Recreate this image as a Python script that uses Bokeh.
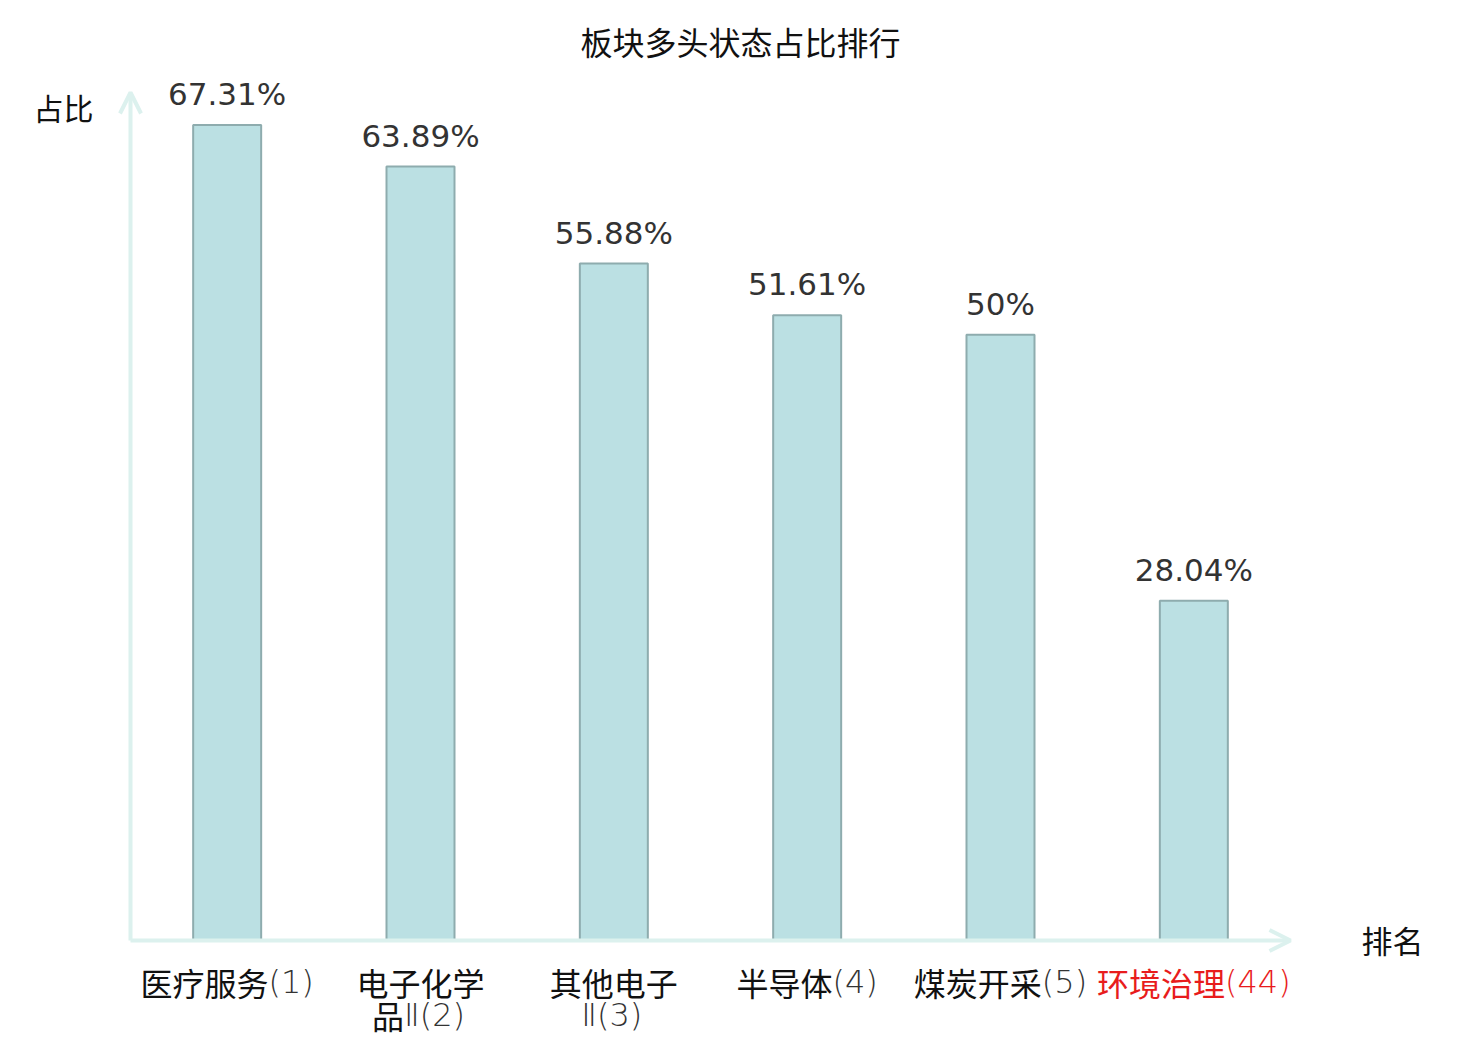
from bokeh.plotting import figure
from bokeh.models import Range1d, Arrow, OpenHead, ColumnDataSource
from bokeh.embed import file_html
from bokeh.resources import INLINE
from bokeh.core.properties import value

# ---- data ----
categories = ["医疗服务", "电子化学品Ⅱ", "其他电子Ⅱ", "半导体", "煤炭开采", "环境治理"]
ranks = [1, 2, 3, 4, 5, 44]
shares = [67.31, 63.89, 55.88, 51.61, 50, 28.04]
highlight = [False, False, False, False, False, True]
title_text = "板块多头状态占比排行"
y_name = "占比"
x_name = "排名"

# ---- layout ----
W, H = 1480, 1040
Y_MAX = 70
N = len(categories)
PX_LEFT, PX_RIGHT, PX_BASE, PX_TOP = 130, 1290, 940, 92
sx = (PX_RIGHT - PX_LEFT) / N
sy = (PX_BASE - PX_TOP) / Y_MAX
x0 = -PX_LEFT / sx
x1 = x0 + W / sx
y1 = PX_BASE / sy
y0 = y1 - H / sy


def dx(px):
    return x0 + px / sx


def dy(py):
    return y1 - py / sy


CJK = "Noto Sans CJK SC"
THIN = "DejaVu Sans ExtraLight, DejaVu Sans Light, DejaVu Sans"
FS = 32
AXIS_COL = "#dcf1ee"

p = figure(width=W, height=H, output_backend="svg", toolbar_location=None,
           x_range=Range1d(x0, x1), y_range=Range1d(y0, y1),
           x_axis_type=None, y_axis_type=None, min_border=0,
           outline_line_color=None, background_fill_color="white",
           border_fill_color="white")
p.grid.visible = False

# axes with arrows
p.add_layout(Arrow(x_start=0, y_start=0, x_end=0, y_end=Y_MAX,
                   line_color=AXIS_COL, line_width=4,
                   end=OpenHead(size=21, line_color=AXIS_COL, line_width=4)))
p.add_layout(Arrow(x_start=0, y_start=0, x_end=N, y_end=0,
                   line_color=AXIS_COL, line_width=4,
                   end=OpenHead(size=21, line_color=AXIS_COL, line_width=4)))

xs = [i + 0.5 for i in range(N)]
src = ColumnDataSource(dict(x=xs, top=shares,
                            lab=[f"{v:g}%" for v in shares]))
p.vbar(x="x", top="top", bottom=0, width=68 / sx, source=src,
       fill_color="#bbe0e3", line_color="#8eacae", line_width=2)
p.text(x="x", y="top", text="lab", source=src, text_align="center",
       text_baseline="alphabetic", y_offset=-31, text_color="#333333",
       text_font=value("DejaVu Sans"), text_font_size="31px")

# category labels: CJK part dark, the rest thin grey
WIDTHS = {"(": 0.39, ")": 0.39, "Ⅱ": 0.62}


def thin_width(s, fs):
    return sum(WIDTHS.get(ch, 0.636) for ch in s) * fs


def is_cjk(ch):
    return ord(ch) >= 0x3400


MAXC = 4
for x, name, r, hl in zip(xs, categories, ranks, highlight):
    chunks = [name[i:i + MAXC] for i in range(0, len(name), MAXC)]
    chunks[-1] += f"({r})"
    dark = "#e81c1c" if hl else "#111111"
    grey = "#e81c1c" if hl else "#333333"
    for li, chunk in enumerate(chunks):
        k = 0
        while k < len(chunk) and is_cjk(chunk[k]):
            k += 1
        a, b = chunk[:k], chunk[k:]
        wa = len(a) * FS
        wb = thin_width(b, FS)
        split = (wa - wb) / 2
        yo = 41 + li * 33
        if a:
            p.text(x=[x], y=[0], text=[a], text_align="right", x_offset=split,
                   y_offset=yo, text_baseline="alphabetic", text_color=dark,
                   text_font=value(CJK), text_font_size=f"{FS}px")
        if b:
            p.text(x=[x], y=[0], text=[b], text_align="left", x_offset=split,
                   y_offset=yo, text_baseline="alphabetic", text_color=grey,
                   text_font=value(THIN), text_font_size=f"{FS}px")

# title and axis names
p.text(x=[dx(740)], y=[dy(40)], text=[title_text], text_align="center",
       text_baseline="alphabetic", text_color="#111111",
       text_font=value(CJK), text_font_size="32px")
p.text(x=[dx(63)], y=[dy(106)], text=[y_name], text_align="center",
       text_baseline="alphabetic", text_color="#111111",
       text_font=value(CJK), text_font_size="30px")
p.text(x=[dx(1392)], y=[dy(939)], text=[x_name], text_align="center",
       text_baseline="alphabetic", text_color="#111111",
       text_font=value(CJK), text_font_size="31px")

open("out.html", "w").write(file_html(p, INLINE))
